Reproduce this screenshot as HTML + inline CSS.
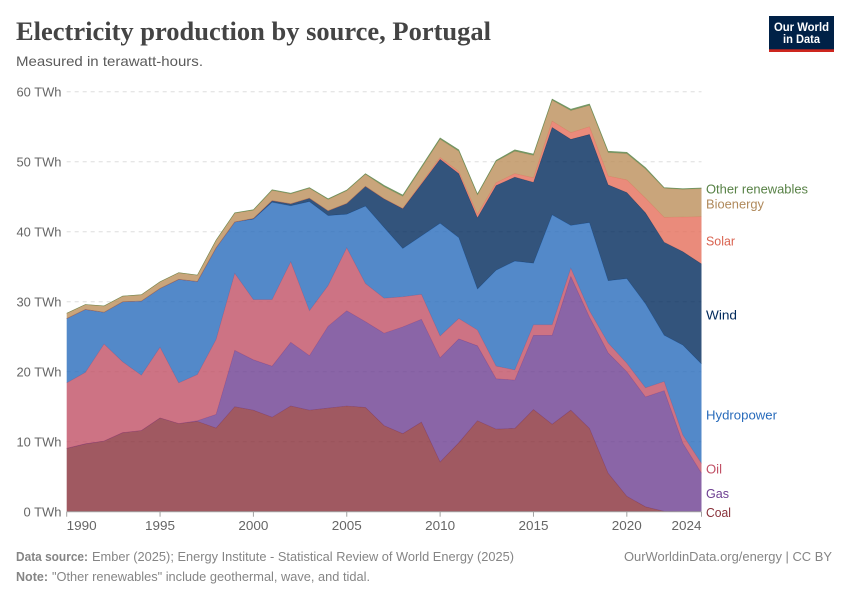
<!DOCTYPE html>
<html lang="en">
<head>
<meta charset="utf-8">
<title>Electricity production by source, Portugal</title>
<style>
html,body{margin:0;padding:0;background:#fff;width:850px;height:600px;overflow:hidden}
svg{display:block}
text{font-family:"Liberation Sans",sans-serif}
</style>
</head>
<body>
<svg id="chart" width="850" height="600" viewBox="0 0 850 600" xmlns="http://www.w3.org/2000/svg">
  <text x="16" y="40" font-size="26" font-weight="700" fill="#444" textLength="475" lengthAdjust="spacingAndGlyphs" style="font-family:'Liberation Serif',serif">Electricity production by source, Portugal</text>
  <text x="16" y="66" font-size="14" fill="#5b5b5b" textLength="187" lengthAdjust="spacingAndGlyphs">Measured in terawatt-hours.</text>
  <g>
    <rect x="769" y="16" width="65" height="36" fill="#002147"/>
    <rect x="769" y="49.3" width="65" height="2.7" fill="#ce261e"/>
    <text x="801.5" y="31" font-size="12" font-weight="700" fill="#fff" text-anchor="middle" textLength="55" lengthAdjust="spacingAndGlyphs">Our World</text>
    <text x="801.5" y="43" font-size="12" font-weight="700" fill="#fff" text-anchor="middle" textLength="37" lengthAdjust="spacingAndGlyphs">in Data</text>
  </g>
  <g id="grid"></g>
  <g id="areas"></g>
  <g id="axes"></g>
  <g id="labels"></g>
  <text x="16" y="561" font-size="13" fill="#858585"><tspan font-weight="700" textLength="72" lengthAdjust="spacingAndGlyphs">Data source:</tspan></text>
  <text x="92" y="561" font-size="13" fill="#858585" textLength="422" lengthAdjust="spacingAndGlyphs">Ember (2025); Energy Institute - Statistical Review of World Energy (2025)</text>
  <text x="832" y="561" font-size="13" fill="#858585" text-anchor="end" textLength="208" lengthAdjust="spacingAndGlyphs">OurWorldinData.org/energy | CC BY</text>
  <text x="16" y="581" font-size="13" font-weight="700" fill="#858585" textLength="32" lengthAdjust="spacingAndGlyphs">Note:</text>
  <text x="52" y="581" font-size="13" fill="#858585" textLength="318" lengthAdjust="spacingAndGlyphs">"Other renewables" include geothermal, wave, and tidal.</text>
</svg>
<script>
const years = [1990,1991,1992,1993,1994,1995,1996,1997,1998,1999,2000,2001,2002,2003,2004,2005,2006,2007,2008,2009,2010,2011,2012,2013,2014,2015,2016,2017,2018,2019,2020,2021,2022,2023,2024];
const coal = [9.05,9.7,10.1,11.3,11.6,13.4,12.6,12.9,11.95,15,14.5,13.5,15.1,14.5,14.8,15.1,14.9,12.3,11.15,12.8,7.1,9.85,13,11.8,11.9,14.6,12.5,14.5,11.9,5.5,2.2,0.7,0.05,0,0];
const gas = [0,0,0,0,0,0,0,0.1,1.95,8.05,7.2,7.3,9.1,7.8,11.7,13.6,12.25,13.2,15.25,14.7,14.9,14.85,10.7,7.2,6.9,10.6,12.7,19.1,15.9,17.2,17.8,15.7,17.25,9.8,5.5];
const oil = [9.35,10.2,13.85,10.1,7.9,10.1,5.8,6.6,10.7,11,8.6,9.5,11.5,6.4,5.8,9,5.45,5,4.3,3.55,3.1,2.9,2.25,1.8,1.45,1.5,1.5,1.2,0.9,1.4,1.2,1.3,1.3,1.15,1.4];
const hydropower = [9.2,9,4.55,8.6,10.6,8.4,14.8,13.3,13.1,7.35,11.5,13.9,8,15.6,10,4.8,11.05,10.1,6.9,8.35,16.1,11.55,5.85,13.7,15.55,8.8,15.7,6.1,12.6,8.9,12.1,12,6.6,12.85,14.2];
const wind = [0,0,0,0,0,0,0,0,0,0,0.1,0.25,0.3,0.5,0.7,1.55,2.85,4.1,5.7,7.4,9.15,9.15,10.2,12.1,12,11.55,12.5,12.3,12.6,13.7,12.3,13,13.3,13.35,14.3];
const solar = [0,0,0,0,0,0,0,0,0,0,0,0,0,0,0,0,0,0.02,0.04,0.15,0.25,0.3,0.5,0.4,0.5,0.65,0.9,0.95,1.1,1.25,1.8,2.1,3.55,4.95,6.75];
const bioenergy = [0.74,0.69,0.89,0.79,0.89,0.94,0.94,0.89,1.05,1.25,1.17,1.45,1.4,1.4,1.6,1.8,1.7,1.7,1.7,2.15,2.6,2.9,2.75,3.05,3.2,3.2,2.98,3.15,3.05,3.35,3.75,4.15,4.15,3.95,4];
const otherRenewables = [0.01,0.01,0.01,0.01,0.01,0.01,0.01,0.01,0.05,0.05,0.08,0.1,0.1,0.1,0.1,0.1,0.1,0.2,0.2,0.2,0.2,0.2,0.15,0.15,0.2,0.2,0.17,0.2,0.2,0.2,0.2,0.2,0.1,0.1,0.1];
const yTicks = [0,10,20,30,40,50,60];
const xTicks = [1990,1995,2000,2005,2010,2015,2020,2024];

const NS = 'http://www.w3.org/2000/svg';
const plotLeft = 66.7, plotRight = 701.5, plotBottom = 511.7, pxPerTen = 70;
const xScale = function (year) { return plotLeft + (year - years[0]) / (years[years.length - 1] - years[0]) * (plotRight - plotLeft); };
const yScale = function (value) { return plotBottom - value / 10 * pxPerTen; };

function make(tag, attrs, parent) {
  const el = document.createElementNS(NS, tag);
  for (const k in attrs) el.setAttribute(k, attrs[k]);
  parent.appendChild(el);
  return el;
}

const gridGroup = document.getElementById('grid');
const axesGroup = document.getElementById('axes');
yTicks.forEach(function (v) {
  if (v !== 0) {
    const line = make('line', {x1: plotLeft, x2: plotRight, y1: yScale(v), y2: yScale(v), stroke: '#dddddd', 'stroke-width': 1, 'stroke-dasharray': '4,4'}, gridGroup);
    
    
  }
  const label = make('text', {x: 61.5, y: yScale(v) + 4.6, 'text-anchor': 'end', 'font-size': 13, fill: '#666', textLength: v === 0 ? 38 : 45, lengthAdjust: 'spacingAndGlyphs'}, axesGroup);
  label.textContent = v + ' TWh';
  
  
});

const series = [
  {name: 'coal', values: coal, color: '#883039'},
  {name: 'gas', values: gas, color: '#6D3E91'},
  {name: 'oil', values: oil, color: '#C15065'},
  {name: 'hydropower', values: hydropower, color: '#286BBB'},
  {name: 'wind', values: wind, color: '#00295B'},
  {name: 'solar', values: solar, color: '#E56E5A'},
  {name: 'bioenergy', values: bioenergy, color: '#BC8E5A'},
  {name: 'other-renewables', values: otherRenewables, color: '#578145'}
];

const areasGroup = document.getElementById('areas');
const baseline = years.map(function () { return 0; });
series.forEach(function (s) {
  const lower = baseline.slice();
  const upper = lower.map(function (b, i) { return b + s.values[i]; });
  const top = years.map(function (y, i) { return xScale(y).toFixed(2) + ',' + yScale(upper[i]).toFixed(2); });
  const bottom = years.map(function (y, i) { return xScale(y).toFixed(2) + ',' + yScale(lower[i]).toFixed(2); }).reverse();
  const area = make('path', {d: 'M' + top.join('L') + 'L' + bottom.join('L') + 'Z', fill: s.color, 'fill-opacity': 0.8, stroke: 'none'}, areasGroup);
  
  
  const line = make('path', {d: 'M' + top.join('L'), fill: 'none', stroke: s.color, 'stroke-width': 0.6, 'stroke-opacity': 0.7}, areasGroup);
  
  
  upper.forEach(function (u, i) { baseline[i] = u; });
});

const xAxis = make('line', {x1: plotLeft, x2: plotRight, y1: plotBottom, y2: plotBottom, stroke: '#a1a1a1', 'stroke-width': 1}, axesGroup);


xTicks.forEach(function (t, i) {
  const px = xScale(t);
  const tick = make('line', {x1: px, x2: px, y1: plotBottom, y2: plotBottom + 5, stroke: '#a1a1a1', 'stroke-width': 1}, axesGroup);
  
  
  const anchor = i === 0 ? 'start' : (i === xTicks.length - 1 ? 'end' : 'middle');
  const label = make('text', {x: px, y: 530, 'text-anchor': anchor, 'font-size': 13, fill: '#666', textLength: 30, lengthAdjust: 'spacingAndGlyphs'}, axesGroup);
  label.textContent = t;
  
  
});

const labelNames = ['Other renewables','Bioenergy','Solar','Wind','Hydropower','Oil','Gas','Coal'];
const labelColors = ['#578145','#B08A5C','#D9624F','#00295B','#286BBB','#C15065','#6D3E91','#883039'];
const labelRows = [193.5,208.5,245.5,319.5,419.5,473.5,498,517];
const labelWidths = [102,58,29,31,71,16,23,25];
const labelsGroup = document.getElementById('labels');
labelNames.forEach(function (n, i) {
  const t = make('text', {x: 706, y: labelRows[i], 'font-size': 13, fill: labelColors[i], textLength: labelWidths[i], lengthAdjust: 'spacingAndGlyphs'}, labelsGroup);
  t.textContent = n;
  
  
});
</script>
</body>
</html>
